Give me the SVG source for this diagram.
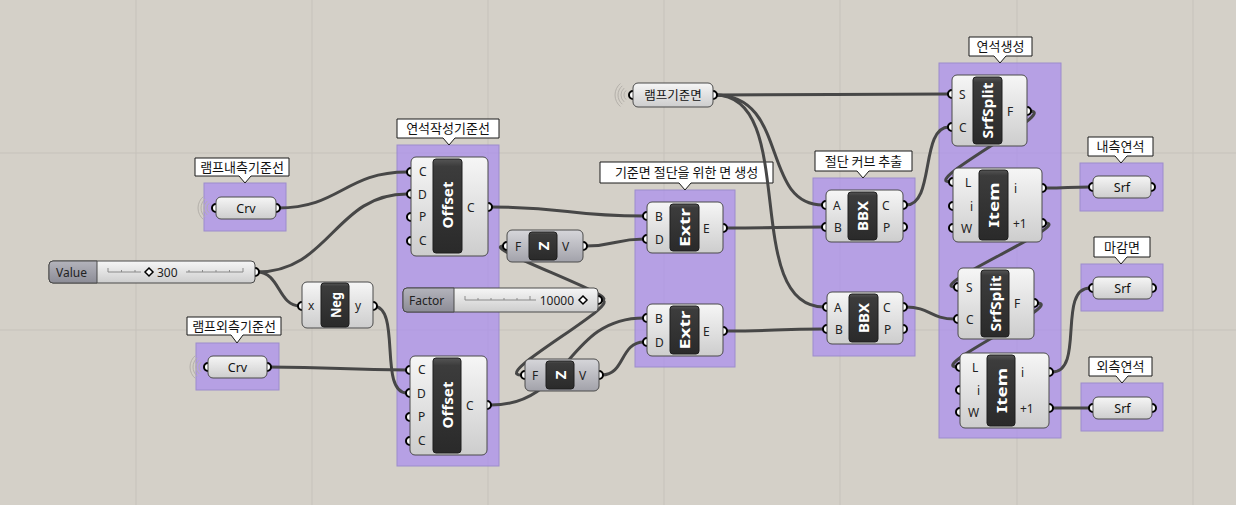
<svg xmlns="http://www.w3.org/2000/svg" xmlns:xlink="http://www.w3.org/1999/xlink" width="1236" height="505" viewBox="0 0 1236 505">
<defs>
<linearGradient id="gBody" x1="0" y1="0" x2="0" y2="1"><stop offset="0" stop-color="#f6f6f6"/><stop offset="1" stop-color="#cdcdcd"/></linearGradient>
<linearGradient id="gGrey" x1="0" y1="0" x2="0" y2="1"><stop offset="0" stop-color="#d6d6da"/><stop offset="1" stop-color="#a2a2aa"/></linearGradient>
<linearGradient id="gDark" x1="0" y1="0" x2="0" y2="1"><stop offset="0" stop-color="#555"/><stop offset="0.08" stop-color="#3c3c3c"/><stop offset="1" stop-color="#2a2a2a"/></linearGradient>
<linearGradient id="gLabel" x1="0" y1="0" x2="0" y2="1"><stop offset="0" stop-color="#b4b4bc"/><stop offset="1" stop-color="#8c8c96"/></linearGradient>
<g id="waves" fill="none" stroke="#b4b0aa" stroke-width="1">
<path d="M-3.9,-4.6 A6 6 0 0 0 -3.9,4.6"/>
<path d="M-5.8,-6.9 A9 9 0 0 0 -5.8,6.9"/>
<path d="M-7.7,-9.2 A12 12 0 0 0 -7.7,9.2"/>
<path d="M-9.6,-11.5 A15 15 0 0 0 -9.6,11.5"/>
</g>
</defs>
<style>
.grid{stroke:#c6c2bb;stroke-width:1}
.grp{fill:#aa8cf0;fill-opacity:0.7;stroke:#9c8ccc;stroke-width:1}
.bub{fill:#ffffff;stroke:#1a1a1a;stroke-width:1}
.btxt{font-family:"Noto Sans CJK KR","Noto Sans",sans-serif;font-size:13px;fill:#111;text-anchor:middle}
.body{fill:url(#gBody);stroke:#4a4a4a;stroke-width:1}
.gbody{fill:url(#gGrey);stroke:#4a4a4a;stroke-width:1}
.dark{fill:url(#gDark);stroke:#1e1e1e;stroke-width:1}
.nick{font-family:"Noto Sans",sans-serif;font-size:15px;font-weight:bold;fill:#fff;text-anchor:middle}
.pl{font-family:"Noto Sans",sans-serif;font-size:12px;fill:#222}
.ptxt{font-family:"Noto Sans","Noto Sans CJK KR",sans-serif;font-size:12.5px;fill:#111;text-anchor:middle}
.port{fill:#fff;stroke:#000;stroke-width:2}
.wire{fill:none;stroke:#474747;stroke-width:3}
.lab{fill:url(#gLabel);stroke:#4a4a4a;stroke-width:1}
.tick{stroke:#8a8a8a;stroke-width:1;fill:none}
</style>
<rect x="0" y="0" width="1236" height="505" fill="#d4d0c8"/>
<g id="grid">
<line class="grid" x1="136" y1="0" x2="136" y2="505"/>
<line class="grid" x1="312" y1="0" x2="312" y2="505"/>
<line class="grid" x1="488" y1="0" x2="488" y2="505"/>
<line class="grid" x1="664" y1="0" x2="664" y2="505"/>
<line class="grid" x1="840" y1="0" x2="840" y2="505"/>
<line class="grid" x1="1017" y1="0" x2="1017" y2="505"/>
<line class="grid" x1="1193" y1="0" x2="1193" y2="505"/>
<line class="grid" x1="0" y1="153" x2="1236" y2="153"/>
<line class="grid" x1="0" y1="330" x2="1236" y2="330"/>
</g>

<g id="groups">
<rect class="grp" x="204" y="183" width="82" height="48"/>
<rect class="grp" x="196" y="343" width="83" height="47"/>
<rect class="grp" x="397" y="145" width="102" height="321"/>
<rect class="grp" x="635" y="190" width="100" height="177"/>
<rect class="grp" x="813" y="178" width="102" height="178"/>
<rect class="grp" x="939" y="63" width="122" height="375"/>
<rect class="grp" x="1080" y="163" width="83" height="48"/>
<rect class="grp" x="1081" y="264" width="82" height="47"/>
<rect class="grp" x="1081" y="383" width="82" height="48"/>
</g>

<g id="bubbles">
<path class="bub" d="M195,158 H289 V176 H251 L245,183 L239,176 H195 Z"/><text class="btxt" x="242" y="172">램프내측기준선</text>
<path class="bub" d="M187,317 H281 V335 H243 L237,343 L231,335 H187 Z"/><text class="btxt" x="234" y="331">램프외측기준선</text>
<path class="bub" d="M397,119 H499 V138 H455 L449,145 L443,138 H397 Z"/><text class="btxt" x="448" y="133">연석작성기준선</text>
<path class="bub" d="M600,162 H773 V183 H691 L685,190 L679,183 H600 Z"/><text class="btxt" x="686.5" y="177">기준면 절단을 위한 면 생성</text>
<path class="bub" d="M815,151 H912 V171 H869 L863,178 L857,171 H815 Z"/><text class="btxt" x="863.5" y="166">절단 커브 추출</text>
<path class="bub" d="M969,37 H1032 V56 H1006 L1000,63 L994,56 H969 Z"/><text class="btxt" x="1000.5" y="51">연석생성</text>
<path class="bub" d="M1088,137 H1153 V156 H1127 L1121,163 L1115,156 H1088 Z"/><text class="btxt" x="1120.5" y="151">내측연석</text>
<path class="bub" d="M1094,237 H1150 V257 H1127 L1121,264 L1115,257 H1094 Z"/><text class="btxt" x="1122" y="252">마감면</text>
<path class="bub" d="M1089,357 H1152 V376 H1128 L1122,383 L1116,376 H1089 Z"/><text class="btxt" x="1120.5" y="371">외측연석</text>
</g>

<g id="connectors">
<path class="wire" d="M278,208 C340,208 345,172 407,172"/>
<path class="wire" d="M257,272 C330,272 335,194 407,194"/>
<path class="wire" d="M257,272 C280,272 278,306 300,306"/>
<path class="wire" d="M373,306 C402,306 378,393 407,393"/>
<path class="wire" d="M268,367 C340,367 340,370 407,370"/>
<path class="wire" d="M491,207 C570,207 565,216 644,216"/>
<path class="wire" d="M600,300 C630,300 475,246 504,246"/>
<path class="wire" d="M600,300 C630,300 490,375 521,375"/>
<path class="wire" d="M491,405 C570,405 565,318 644,318"/>
<path class="wire" d="M586,246 C615,246 615,239 644,239"/>
<path class="wire" d="M602,375 C625,375 620,342 644,342"/>
<path class="wire" d="M726,228 C775,228 775,227 823,227"/>
<path class="wire" d="M726,331 C775,331 775,329 824,329"/>
<path class="wire" d="M715,95 C830,95 835,94 949,94"/>
<path class="wire" d="M715,95 C790,95 760,205 823,205"/>
<path class="wire" d="M715,95 C800,95 740,307 824,307"/>
<path class="wire" d="M906,205 C935,205 920,127 949,127"/>
<path class="wire" d="M906,307 C930,307 930,319 955,319"/>
<path class="wire" d="M1030,111 C1060,111 920,182 950,182"/>
<path class="wire" d="M1037,303 C1067,303 927,367 957,367"/>
<path class="wire" d="M1045,188 C1068,188 1067,187 1090,187"/>
<path class="wire" d="M1045,223 C1075,223 925,287 955,287"/>
<path class="wire" d="M1052,372 C1085,372 1057,288 1090,288"/>
<path class="wire" d="M1052,408 C1070,408 1072,408 1090,408"/>
</g>

<g id="crv-inner">
<use xlink:href="#waves" x="213" y="208"/>
<circle class="port" cx="216" cy="208" r="4"/><circle class="port" cx="276" cy="208" r="4"/>
<rect class="body" x="216" y="197" width="60" height="22" rx="5"/>
<text class="ptxt" x="246" y="212.5">Crv</text>
</g>

<g id="crv-outer">
<use xlink:href="#waves" x="205" y="367"/>
<circle class="port" cx="208" cy="367" r="4"/><circle class="port" cx="267" cy="367" r="4"/>
<rect class="body" x="208" y="356" width="59" height="22" rx="5"/>
<text class="ptxt" x="237.5" y="371.5">Crv</text>
</g>

<g id="ramp-base">
<use xlink:href="#waves" x="630" y="95"/>
<circle class="port" cx="633" cy="95" r="4"/><circle class="port" cx="713" cy="95" r="4"/>
<rect class="body" x="633" y="83" width="80" height="24" rx="5"/>
<text class="ptxt" x="673" y="99.5">램프기준면</text>
</g>

<g id="slider-value">
<circle class="port" cx="255" cy="272" r="4"/>
<rect class="body" x="49" y="261" width="206" height="22" rx="4"/>
<path class="lab" d="M53,261 H97 V283 H53 A4 4 0 0 1 49,279 V265 A4 4 0 0 1 53,261 Z"/>
<text class="pl" x="56" y="276.5">Value</text>
<path class="tick" d="M108,272 H141 M186,272 H243"/>
<path class="tick" d="M108,268 V272 M121.5,270 V272 M135,270 V272 M189,270 V272 M202.5,270 V272 M216,270 V272 M229.5,270 V272 M243,268 V272"/>
<path d="M149,268 L153,272 L149,276 L145,272 Z" fill="#fff" stroke="#000" stroke-width="1.5"/>
<text class="pl" x="157" y="276.5">300</text>
</g>

<g id="slider-factor">
<circle class="port" cx="598" cy="300" r="4"/>
<rect class="body" x="403" y="288" width="195" height="24" rx="4"/>
<path class="lab" d="M407,288 H454 V312 H407 A4 4 0 0 1 403,308 V292 A4 4 0 0 1 407,288 Z"/>
<text class="pl" x="409" y="304.5">Factor</text>
<path class="tick" d="M465,300 H536"/>
<path class="tick" d="M465,296 V300 M478,298 V300 M491,298 V300 M504,298 V300 M517,298 V300 M530,296 V300"/>
<text class="pl" x="574" y="304.5" text-anchor="end">10000</text>
<path d="M583,296 L587,300 L583,304 L579,300 Z" fill="#fff" stroke="#000" stroke-width="1.5"/>
</g>

<g id="neg">
<circle class="port" cx="302" cy="306" r="4"/><circle class="port" cx="373" cy="306" r="4"/>
<rect class="body" x="302" y="282" width="71" height="46" rx="5"/>
<rect class="dark" x="321" y="283" width="28" height="44" rx="3"/>
<text class="pl" x="308" y="310">x</text><text class="pl" x="355" y="310">y</text>
<text class="nick" transform="translate(335,305) rotate(-90)" y="5.5" textLength="26" lengthAdjust="spacingAndGlyphs">Neg</text>
</g>

<g id="offset-1">
<circle class="port" cx="411" cy="172" r="4"/><circle class="port" cx="411" cy="194" r="4"/><circle class="port" cx="411" cy="217" r="4"/><circle class="port" cx="411" cy="241" r="4"/>
<circle class="port" cx="488" cy="207" r="4"/>
<rect class="body" x="411" y="157" width="77" height="99" rx="5"/>
<rect class="dark" x="433" y="159" width="29" height="94" rx="3"/>
<text class="pl" x="419" y="176">C</text><text class="pl" x="418" y="198.5">D</text><text class="pl" x="419" y="221">P</text><text class="pl" x="419" y="245">C</text>
<text class="pl" x="467" y="211.5">C</text>
<text class="nick" transform="translate(447.5,205) rotate(-90)" y="5.5" textLength="47" lengthAdjust="spacingAndGlyphs">Offset</text>
</g>

<g id="offset-2">
<circle class="port" cx="410" cy="370" r="4"/><circle class="port" cx="410" cy="393" r="4"/><circle class="port" cx="410" cy="417" r="4"/><circle class="port" cx="410" cy="441" r="4"/>
<circle class="port" cx="487" cy="405" r="4"/>
<rect class="body" x="410" y="356" width="77" height="99" rx="5"/>
<rect class="dark" x="433" y="358" width="28" height="95" rx="3"/>
<text class="pl" x="418" y="374">C</text><text class="pl" x="417" y="397.5">D</text><text class="pl" x="418" y="421">P</text><text class="pl" x="418" y="445">C</text>
<text class="pl" x="466" y="409.5">C</text>
<text class="nick" transform="translate(447,405) rotate(-90)" y="5.5" textLength="47" lengthAdjust="spacingAndGlyphs">Offset</text>
</g>

<g id="unitz-1">
<circle class="port" cx="507" cy="246" r="4"/><circle class="port" cx="583" cy="246" r="4"/>
<rect class="gbody" x="507" y="230" width="76" height="32" rx="5"/>
<rect class="dark" x="529" y="232" width="28" height="28" rx="3"/>
<text class="pl" x="515" y="250.5">F</text><text class="pl" x="562" y="250.5">V</text>
<text class="nick" transform="translate(543,246) rotate(-90)" y="5.5">Z</text>
</g>

<g id="unitz-2">
<circle class="port" cx="525" cy="375" r="4"/><circle class="port" cx="599" cy="375" r="4"/>
<rect class="gbody" x="525" y="359" width="74" height="32" rx="5"/>
<rect class="dark" x="546" y="361" width="28" height="28" rx="3"/>
<text class="pl" x="532" y="379.5">F</text><text class="pl" x="579" y="379.5">V</text>
<text class="nick" transform="translate(560,375) rotate(-90)" y="5.5">Z</text>
</g>

<g id="extr-1">
<circle class="port" cx="647" cy="216" r="4"/><circle class="port" cx="647" cy="239" r="4"/><circle class="port" cx="723" cy="228" r="4"/>
<rect class="body" x="647" y="202" width="76" height="51" rx="5"/>
<rect class="dark" x="670" y="204" width="29" height="47" rx="3"/>
<text class="pl" x="655" y="220.5">B</text><text class="pl" x="655" y="243.5">D</text><text class="pl" x="703" y="232.5">E</text>
<text class="nick" transform="translate(684.5,227.5) rotate(-90)" y="5.5" textLength="39" lengthAdjust="spacingAndGlyphs">Extr</text>
</g>

<g id="extr-2">
<circle class="port" cx="647" cy="318" r="4"/><circle class="port" cx="647" cy="342" r="4"/><circle class="port" cx="723" cy="331" r="4"/>
<rect class="body" x="647" y="304" width="76" height="52" rx="5"/>
<rect class="dark" x="670" y="306" width="29" height="48" rx="3"/>
<text class="pl" x="655" y="322.5">B</text><text class="pl" x="655" y="346.5">D</text><text class="pl" x="703" y="335.5">E</text>
<text class="nick" transform="translate(684.5,330) rotate(-90)" y="5.5" textLength="39" lengthAdjust="spacingAndGlyphs">Extr</text>
</g>

<g id="bbx-1">
<circle class="port" cx="826" cy="205" r="4"/><circle class="port" cx="826" cy="227" r="4"/><circle class="port" cx="903" cy="205" r="4"/><circle class="port" cx="903" cy="227" r="4"/>
<rect class="body" x="826" y="190" width="77" height="52" rx="5"/>
<rect class="dark" x="848" y="192" width="29" height="48" rx="3"/>
<text class="pl" x="833" y="209.5">A</text><text class="pl" x="834" y="231.5">B</text><text class="pl" x="882" y="209.5">C</text><text class="pl" x="883" y="231.5">P</text>
<text class="nick" transform="translate(862.5,216) rotate(-90)" y="5.5" textLength="30" lengthAdjust="spacingAndGlyphs">BBX</text>
</g>

<g id="bbx-2">
<circle class="port" cx="827" cy="307" r="4"/><circle class="port" cx="827" cy="329" r="4"/><circle class="port" cx="903" cy="307" r="4"/><circle class="port" cx="903" cy="329" r="4"/>
<rect class="body" x="827" y="292" width="76" height="52" rx="5"/>
<rect class="dark" x="849" y="294" width="29" height="48" rx="3"/>
<text class="pl" x="834" y="311.5">A</text><text class="pl" x="835" y="333.5">B</text><text class="pl" x="883" y="311.5">C</text><text class="pl" x="884" y="333.5">P</text>
<text class="nick" transform="translate(863.5,318) rotate(-90)" y="5.5" textLength="30" lengthAdjust="spacingAndGlyphs">BBX</text>
</g>

<g id="srfsplit-1">
<circle class="port" cx="952" cy="94" r="4"/><circle class="port" cx="952" cy="127" r="4"/><circle class="port" cx="1027" cy="111" r="4"/>
<rect class="body" x="952" y="75" width="75" height="71" rx="5"/>
<rect class="dark" x="973" y="77" width="29" height="67" rx="3"/>
<text class="pl" x="959" y="98.5">S</text><text class="pl" x="959" y="131.5">C</text><text class="pl" x="1007" y="115.5">F</text>
<text class="nick" transform="translate(987.5,110.5) rotate(-90)" y="5.5" textLength="56" lengthAdjust="spacingAndGlyphs">SrfSplit</text>
</g>

<g id="srfsplit-2">
<circle class="port" cx="958" cy="287" r="4"/><circle class="port" cx="958" cy="319" r="4"/><circle class="port" cx="1034" cy="303" r="4"/>
<rect class="body" x="958" y="268" width="76" height="71" rx="5"/>
<rect class="dark" x="981" y="270" width="28" height="67" rx="3"/>
<text class="pl" x="966" y="291.5">S</text><text class="pl" x="966" y="323.5">C</text><text class="pl" x="1014" y="307.5">F</text>
<text class="nick" transform="translate(995,303.5) rotate(-90)" y="5.5" textLength="56" lengthAdjust="spacingAndGlyphs">SrfSplit</text>
</g>

<g id="item-1">
<circle class="port" cx="953" cy="182" r="4"/><circle class="port" cx="953" cy="206" r="4"/><circle class="port" cx="953" cy="228" r="4"/>
<circle class="port" cx="1042" cy="188" r="4"/><circle class="port" cx="1042" cy="223" r="4"/>
<rect class="body" x="953" y="168" width="89" height="74" rx="5"/>
<rect class="dark" x="979" y="170" width="29" height="70" rx="3"/>
<text class="pl" x="965" y="186.5">L</text><text class="pl" x="970" y="210.5">i</text><text class="pl" x="961" y="232.5">W</text>
<text class="pl" x="1014" y="192.5">i</text><text class="pl" x="1013" y="227.5">+1</text>
<text class="nick" transform="translate(993.5,205) rotate(-90)" y="5.5" textLength="45" lengthAdjust="spacingAndGlyphs">Item</text>
</g>

<g id="item-2">
<circle class="port" cx="960" cy="367" r="4"/><circle class="port" cx="960" cy="390" r="4"/><circle class="port" cx="960" cy="412" r="4"/>
<circle class="port" cx="1049" cy="372" r="4"/><circle class="port" cx="1049" cy="408" r="4"/>
<rect class="body" x="960" y="353" width="89" height="75" rx="5"/>
<rect class="dark" x="987" y="355" width="28" height="71" rx="3"/>
<text class="pl" x="972" y="371.5">L</text><text class="pl" x="977" y="394.5">i</text><text class="pl" x="968" y="416.5">W</text>
<text class="pl" x="1021" y="376.5">i</text><text class="pl" x="1020" y="412.5">+1</text>
<text class="nick" transform="translate(1001,390.5) rotate(-90)" y="5.5" textLength="45" lengthAdjust="spacingAndGlyphs">Item</text>
</g>

<g id="srf-inner">
<circle class="port" cx="1093" cy="187" r="4"/><circle class="port" cx="1151" cy="187" r="4"/>
<rect class="body" x="1093" y="176" width="58" height="22" rx="5"/>
<text class="ptxt" x="1122" y="191.5">Srf</text>
</g>

<g id="srf-finish">
<circle class="port" cx="1093" cy="288" r="4"/><circle class="port" cx="1152" cy="288" r="4"/>
<rect class="body" x="1093" y="277" width="59" height="22" rx="5"/>
<text class="ptxt" x="1122.5" y="292.5">Srf</text>
</g>

<g id="srf-outer">
<circle class="port" cx="1093" cy="408" r="4"/><circle class="port" cx="1152" cy="408" r="4"/>
<rect class="body" x="1093" y="397" width="59" height="22" rx="5"/>
<text class="ptxt" x="1122.5" y="412.5">Srf</text>
</g>
</svg>
